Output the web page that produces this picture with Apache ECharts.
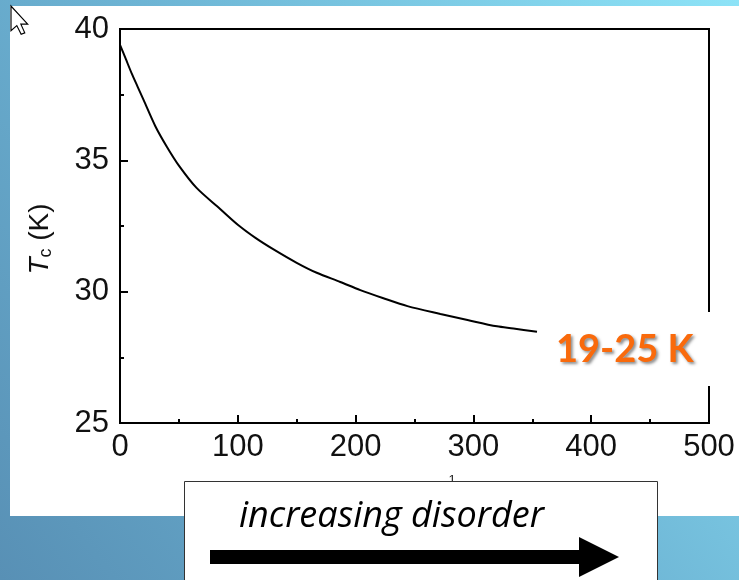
<!DOCTYPE html>
<html>
<head>
<meta charset="utf-8">
<title>Tc vs disorder</title>
<script src="https://cdn.jsdelivr.net/npm/echarts@6/dist/echarts.min.js"></script>
<style>
  html, body { margin: 0; padding: 0; }
  #chart { width: 739px; height: 580px; }
</style>
</head>
<body>
<div id="chart"></div>
<script>
// Critical temperature as disorder grows
const disorder = [0, 5, 10, 15, 20, 30, 40, 50, 65, 85, 100, 115, 130, 150, 167, 187, 204, 223, 244, 272, 295, 320, 334, 354];
const tc = [39.4, 38.85, 38.3, 37.8, 37.3, 36.3, 35.5, 34.8, 33.95, 33.15, 32.55, 32.05, 31.62, 31.1, 30.72, 30.37, 30.06, 29.76, 29.45, 29.15, 28.92, 28.68, 28.6, 28.47];

const xTicks = { min: 0, max: 500, step: 100 };
const yTicks = { min: 25, max: 40, step: 5 };

const rangeLabel = '19-25 K';
const arrowCaption = 'increasing disorder';

const chart = echarts.init(document.getElementById('chart'), null, { renderer: 'canvas' });

const axisFont = { fontFamily: 'Liberation Sans', fontSize: 31, color: '#111' };

chart.setOption({
  animation: false,
  grid: {
    left: 120, top: 29, right: 30, bottom: 157,
    show: true, borderColor: '#000', borderWidth: 2, backgroundColor: 'transparent'
  },
  xAxis: {
    type: 'value',
    min: xTicks.min, max: xTicks.max, interval: xTicks.step,
    axisLine: { lineStyle: { color: '#000', width: 2 } },
    axisTick: { inside: true, length: 8, lineStyle: { color: '#000', width: 2 } },
    minorTick: { show: true, splitNumber: 2, length: 4, lineStyle: { color: '#000', width: 2 } },
    splitLine: { show: false },
    axisLabel: Object.assign({ margin: 9 }, axisFont)
  },
  yAxis: {
    type: 'value',
    min: yTicks.min, max: yTicks.max, interval: yTicks.step,
    axisLine: { show: true, lineStyle: { color: '#000', width: 2 } },
    axisTick: { show: true, inside: true, length: 8, lineStyle: { color: '#000', width: 2 } },
    minorTick: { show: true, splitNumber: 2, length: 4, lineStyle: { color: '#000', width: 2 } },
    splitLine: { show: false },
    axisLabel: Object.assign({ margin: 11 }, axisFont)
  },
  series: [{
    type: 'line',
    data: disorder.map((d, i) => [d, tc[i]]),
    showSymbol: false,
    smooth: 0.3,
    lineStyle: { color: '#000', width: 2 },
    z: 3
  }],
  graphic: [
    // slide background
    {
      type: 'rect', z: -100, silent: true,
      shape: { x: 0, y: 0, width: 739, height: 580 },
      style: {
        fill: new echarts.graphic.LinearGradient(0, 1, 1, 0, [
          { offset: 0, color: '#5890b5' },
          { offset: 0.5, color: '#6db4d4' },
          { offset: 1, color: '#8de3f7' }
        ])
      }
    },
    // white panel behind the plot
    {
      type: 'rect', z: -90, silent: true,
      shape: { x: 10, y: 6, width: 729, height: 510 },
      style: { fill: '#fff' }
    },
    // axis title for Tc
    {
      type: 'text', z: 10, silent: true,
      x: 40, y: 239, rotation: Math.PI / 2,
      style: {
        text: '{t|T}{s|c}{n| (K)}',
        align: 'center', verticalAlign: 'middle',
        rich: {
          t: { fontFamily: 'Liberation Sans', fontStyle: 'italic', fontSize: 28, fill: '#111' },
          s: { fontFamily: 'Liberation Sans', fontSize: 18, fill: '#111', verticalAlign: 'bottom', padding: [12, 0, 0, 0] },
          n: { fontFamily: 'Liberation Sans', fontSize: 28, fill: '#111' }
        }
      }
    },
    // fragment of the x-axis title peeking above the caption box
    {
      type: 'text', z: 20, silent: true,
      x: 452, y: 474,
      style: { text: '1', fontFamily: 'Liberation Sans', fontSize: 13, fill: '#222', align: 'center', verticalAlign: 'top' }
    },
    // highlighted range label
    {
      type: 'rect', z: 50, silent: true,
      shape: { x: 539, y: 312, width: 183, height: 74 },
      style: { fill: '#fff' }
    },
    {
      type: 'text', z: 51, silent: true,
      x: 556, y: 350,
      style: {
        text: rangeLabel,
        fontFamily: 'Lato', fontWeight: 'bold', fontSize: 38,
        fill: '#f96a0c', align: 'left', verticalAlign: 'middle',
        textShadowColor: 'rgba(0,0,0,0.45)', textShadowBlur: 3,
        textShadowOffsetX: 2, textShadowOffsetY: 2
      }
    },
    // caption box with arrow
    {
      type: 'rect', z: 60, silent: true,
      shape: { x: 184.5, y: 481.5, width: 473, height: 110 },
      style: { fill: '#fff', stroke: '#333', lineWidth: 1 }
    },
    {
      type: 'text', z: 61, silent: true,
      x: 239, y: 517,
      style: {
        text: arrowCaption,
        fontFamily: 'Open Sans', fontStyle: 'italic', fontSize: 36,
        fill: '#000', align: 'left', verticalAlign: 'middle'
      }
    },
    {
      type: 'polygon', z: 61, silent: true,
      shape: { points: [[210, 550], [579, 550], [579, 537], [619, 557], [579, 577], [579, 564], [210, 564]] },
      style: { fill: '#000' }
    },
    // mouse pointer
    {
      type: 'polygon', z: 70, silent: true,
      x: 11, y: 6, scaleX: 1.45, scaleY: 1.45,
      shape: { points: [[0, 0], [0, 17], [4, 13.5], [7, 19.5], [9.5, 18.5], [6.8, 12.5], [11.5, 12.5]] },
      style: { fill: '#fff', stroke: '#000', lineWidth: 0.8 }
    }
  ]
});
</script>
</body>
</html>
